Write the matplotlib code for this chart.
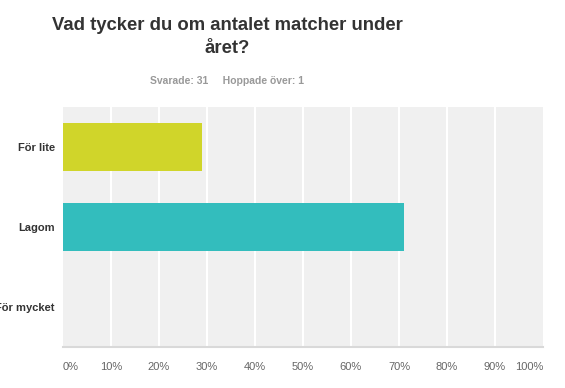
import matplotlib
matplotlib.use('Agg')
import matplotlib.pyplot as plt
import numpy as np

plt.rcParams['font.family'] = ['Liberation Sans', 'DejaVu Sans']

# svarsdata
categories = ['För lite', 'Lagom', 'För mycket']
percent = [29.03, 70.97, 0.0]
colors = ['#D0D52A', '#33BDBD', '#8E8E8E']
ticks = [0, 10, 20, 30, 40, 50, 60, 70, 80, 90, 100]
tick_labels = [f'{t}%' for t in ticks]

fig = plt.figure(figsize=(5.65, 3.88), dpi=100)
ax = fig.add_axes([63/565, 1-347/388, 480/565, 240/388])
ax.set_facecolor('#F0F0F0')

y = np.arange(len(categories))
ax.barh(y, percent, height=0.61, color=colors, zorder=3)
ax.set_ylim(len(categories)-0.5, -0.5)
ax.set_xlim(0, 100)

# vita stödlinjer
for t in ticks[1:-1]:
    ax.axvline(t, color='white', lw=1.5, zorder=1)

for s in ['top', 'right', 'left']:
    ax.spines[s].set_visible(False)
ax.spines['bottom'].set_color('#D9D9D9')
ax.spines['bottom'].set_linewidth(1.5)

ax.set_yticks(y)
ax.set_yticklabels(categories, fontsize=8, fontweight='bold', color='#333333')
ax.tick_params(axis='y', length=0, pad=6)
ax.set_xticks(ticks)
ax.set_xticklabels(tick_labels, fontsize=8, color='#666666')
ax.tick_params(axis='x', length=0, pad=11)
lbls = ax.get_xticklabels()
lbls[0].set_ha('left')
lbls[-1].set_ha('right')

fig.text(227/565, 1-37/388, 'Vad tycker du om antalet matcher under\nåret?',
         ha='center', va='center', fontsize=13.3, fontweight='bold',
         color='#333333', linespacing=1.45)
fig.text(227/565, 1-81/388, 'Svarade: 31     Hoppade över: 1', ha='center',
         va='center', fontsize=7.5, fontweight='bold', color='#999999')

fig.savefig('out.png', dpi=100)
